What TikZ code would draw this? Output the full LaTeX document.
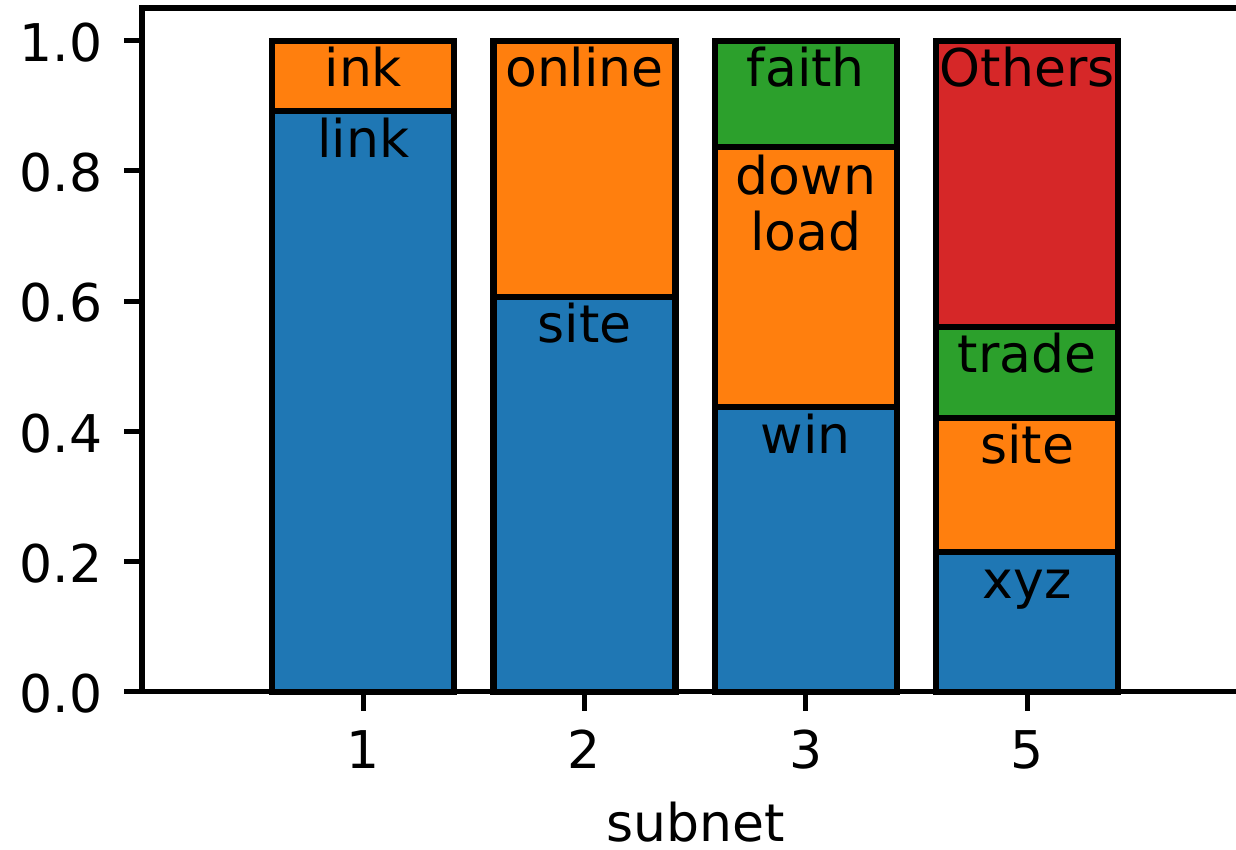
\documentclass[tikz,border=0pt]{standalone}
\usepackage{fontspec}
\setmainfont{DejaVu Sans}
\definecolor{tabblue}{HTML}{1F77B4}
\definecolor{taborange}{HTML}{FF7F0E}
\definecolor{tabgreen}{HTML}{2CA02C}
\definecolor{tabred}{HTML}{D62728}
\tikzset{
  seg/.style={draw=black, line width=3.1pt},
  spine/.style={draw=black, line width=2.6pt, line cap=rect},
  tickmark/.style={draw=black, line width=2.6pt},
  lbl/.style={inner sep=0pt, anchor=base, font=\fontsize{26}{31}\selectfont},
  ylbl/.style={inner sep=0pt, anchor=base east, font=\fontsize{26}{31}\selectfont},
}
\newcommand{\segbar}[4]{% center, bottom, top, color
  \filldraw[seg, fill=#4] (#1-91,#2) rectangle (#1+91,#3);
}
\begin{document}
\begin{tikzpicture}[x=0.5pt, y=-0.5pt]
\useasboundingbox (0,0) rectangle (1236,850);
% bars
\segbar{363.3}{691.7}{110.7}{tabblue}
\segbar{584.5}{691.7}{296.7}{tabblue}
\segbar{805.8}{691.7}{407}{tabblue}
\segbar{1027.2}{691.7}{551.7}{tabblue}
\segbar{363.3}{110.7}{40.7}{taborange}
\segbar{584.5}{296.7}{40.7}{taborange}
\segbar{805.8}{407}{146.7}{taborange}
\segbar{1027.2}{551.7}{418.3}{taborange}
\segbar{805.8}{146.7}{40.7}{tabgreen}
\segbar{1027.2}{418.3}{326.7}{tabgreen}
\segbar{1027.2}{326.7}{40.7}{tabred}
% bar labels
\node[lbl] (l1a) at (363.3,157.7) {link};
\node[lbl] (l1b) at (363.3,86.7) {ink};
\node[lbl] (l2a) at (584.5,342.2) {site};
\node[lbl] (l2b) at (584.5,86.7) {online};
\node[lbl] (l3a) at (805.8,453.2) {win};
\node[lbl] (l3b) at (805.8,194.5) {down};
\node[lbl] (l3c) at (805.8,250) {load};
\node[lbl] (l3d) at (805.8,86.7) {faith};
\node[lbl] (l5a) at (1027.2,598) {xyz};
\node[lbl] (l5b) at (1027.2,463.8) {site};
\node[lbl] (l5c) at (1027.2,372.7) {trade};
\node[lbl] (l5d) at (1027.2,86.7) {Others};
% spines
\coordinate (tl) at (142,8.1);
\coordinate (bl) at (142,691.7);
\coordinate (br) at (1248.5,691.7);
\coordinate (tr) at (1248.5,8.1);
\draw[spine] (tr) -- (tl) -- (bl) -- (br);
% y ticks
\foreach \v/\t in {691.7/0.0, 561.5/0.2, 431.3/0.4, 301.1/0.6, 170.9/0.8, 40.7/1.0}{
  \draw[tickmark] (124,\v) -- (142,\v);
  \node[ylbl] at (103,\v+20.8) {\t};
}
% x ticks
\foreach \c/\t in {363.3/1, 584.5/2, 805.8/3, 1027.2/5}{
  \draw[tickmark] (\c,691.7) -- (\c,711);
  \node[lbl] at (\c,768.3) {\t};
}
\node[lbl] (xlabel) at (695.2,841.7) {subnet};
\end{tikzpicture}
\end{document}
